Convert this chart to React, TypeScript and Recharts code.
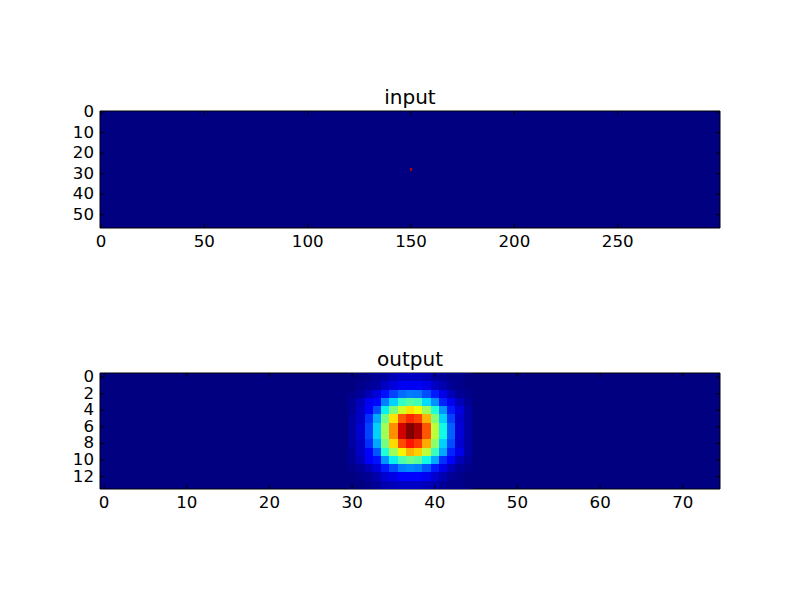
import React from "react";
import { ScatterChart, Scatter, XAxis, YAxis, ReferenceArea } from "recharts";

const inputTitle = "input";
const outputTitle = "output";
const inputXTicks = [0, 50, 100, 150, 200, 250];
const inputYTicks = [0, 10, 20, 30, 40, 50];
const outputXTicks = [0, 10, 20, 30, 40, 50, 60, 70];
const outputYTicks = [0, 2, 4, 6, 8, 10, 12];

const inputCols = [150];
const inputRows = [28];
const inputValues = [0.95];

const outputCols = [30, 31, 32, 33, 34, 35, 36, 37, 38, 39, 40, 41, 42, 43, 44];
const outputRow0 = [0, 0, 0.01, 0.02, 0.03, 0.05, 0.06, 0.06, 0.06, 0.05, 0.03, 0.02, 0.01, 0.01, 0];
const outputRow1 = [0, 0.01, 0.02, 0.03, 0.06, 0.08, 0.1, 0.1, 0.1, 0.09, 0.06, 0.04, 0.02, 0.01, 0];
const outputRow2 = [0.01, 0.02, 0.05, 0.08, 0.14, 0.19, 0.23, 0.245, 0.24, 0.2, 0.15, 0.09, 0.05, 0.02, 0.01];
const outputRow3 = [0.02, 0.05, 0.1, 0.13, 0.25, 0.33, 0.41, 0.45, 0.43, 0.34, 0.265, 0.155, 0.1, 0.05, 0.02];
const outputRow4 = [0.02, 0.06, 0.11, 0.2, 0.36, 0.5, 0.6, 0.67, 0.64, 0.545, 0.39, 0.27, 0.15, 0.08, 0.03];
const outputRow5 = [0.03, 0.06, 0.17, 0.29, 0.48, 0.67, 0.82, 0.87, 0.84, 0.72, 0.51, 0.33, 0.19, 0.07, 0.03];
const outputRow6 = [0.03, 0.07, 0.19, 0.33, 0.545, 0.76, 0.93, 1, 0.96, 0.82, 0.58, 0.37, 0.22, 0.075, 0.03];
const outputRow7 = [0.03, 0.07, 0.19, 0.33, 0.545, 0.76, 0.93, 1, 0.96, 0.82, 0.58, 0.37, 0.22, 0.075, 0.03];
const outputRow8 = [0.03, 0.06, 0.17, 0.29, 0.49, 0.68, 0.83, 0.89, 0.85, 0.73, 0.52, 0.33, 0.2, 0.07, 0.03];
const outputRow9 = [0.02, 0.06, 0.12, 0.21, 0.39, 0.54, 0.65, 0.72, 0.69, 0.58, 0.42, 0.29, 0.16, 0.09, 0.03];
const outputRow10 = [0.02, 0.05, 0.11, 0.14, 0.27, 0.36, 0.44, 0.48, 0.46, 0.37, 0.29, 0.17, 0.11, 0.05, 0.02];
const outputRow11 = [0.01, 0.02, 0.05, 0.08, 0.15, 0.2, 0.25, 0.26, 0.25, 0.21, 0.15, 0.09, 0.05, 0.02, 0.01];
const outputRow12 = [0, 0.01, 0.02, 0.04, 0.07, 0.09, 0.11, 0.11, 0.11, 0.1, 0.07, 0.04, 0.02, 0.01, 0];
const outputRow13 = [0, 0, 0.01, 0.02, 0.04, 0.05, 0.06, 0.06, 0.06, 0.05, 0.04, 0.02, 0.01, 0.01, 0];
const outputRows = [
  outputRow0, outputRow1, outputRow2, outputRow3, outputRow4, outputRow5, outputRow6,
  outputRow7, outputRow8, outputRow9, outputRow10, outputRow11, outputRow12, outputRow13,
];

const inputCells = inputCols.map((x, i) => ({ x, y: inputRows[i], v: inputValues[i] }));
const outputCells = outputRows.flatMap((row, y) => row.map((v, i) => ({ x: outputCols[i], y, v })));

const clamp = (n: number) => Math.max(0, Math.min(1, n));
const jet = (v: number) => {
  const red = v > 0.89 ? 1 - ((v - 0.89) / 0.11) * 0.5 : clamp((v - 0.35) / 0.31);
  const g = v < 0.125 ? 0 : v < 0.375 ? (v - 0.125) / 0.25 : v < 0.64 ? 1 : clamp((0.91 - v) / 0.27);
  const b = v < 0.11 ? 0.5 + (v / 0.11) * 0.5 : v < 0.34 ? 1 : clamp((0.65 - v) / 0.31);
  return `rgb(${Math.round(red * 255)},${Math.round(g * 255)},${Math.round(b * 255)})`;
};

const FONT = "DejaVu Sans";
const PLOT_WIDTH = 620;

type PanelProps = {
  title: string;
  cells: { x: number; y: number; v: number }[];
  cols: number;
  rows: number;
  xTicks: number[];
  yTicks: number[];
  top: number;
  plotTop: number;
  plotHeight: number;
  titleY: number;
};

function Panel({ title, cells, cols, rows, xTicks, yTicks, top, plotTop, plotHeight, titleY }: PanelProps) {
  const cw = PLOT_WIDTH / cols;
  const ch = plotHeight / rows;
  const height = 300;
  const xDomain: [number, number] = [-0.5, cols - 0.5];
  const yDomain: [number, number] = [-0.5, rows - 0.5];
  const xTick = (p: any) => (
    <g>
      <line x1={p.x} x2={p.x} y1={plotTop + plotHeight} y2={plotTop + plotHeight - 4} stroke="#000" />
      <line x1={p.x} x2={p.x} y1={plotTop} y2={plotTop + 4} stroke="#000" />
      <text x={p.x} y={plotTop + plotHeight + 18.5} textAnchor="middle" fontFamily={FONT} fontSize={16.67} fill="#000">
        {p.payload.value}
      </text>
    </g>
  );
  const yTick = (p: any) => (
    <g>
      <line x1={100} x2={104} y1={p.y} y2={p.y} stroke="#000" />
      <line x1={720} x2={716} y1={p.y} y2={p.y} stroke="#000" />
      <text x={94} y={p.y + 5} textAnchor="end" fontFamily={FONT} fontSize={16.67} fill="#000">
        {p.payload.value}
      </text>
    </g>
  );
  const cell = (p: any) => (
    <rect
      x={p.cx - cw / 2}
      y={p.cy - ch / 2}
      width={cw}
      height={ch}
      fill={jet(p.payload.v)}
      shapeRendering="crispEdges"
    />
  );
  return (
    <div style={{ position: "absolute", left: 0, top, width: 800, height }}>
      <ScatterChart
        width={800}
        height={height}
        margin={{ top: plotTop, right: 80, bottom: height - plotTop - plotHeight - 30, left: 40 }}
      >
        <XAxis
          type="number"
          dataKey="x"
          domain={xDomain}
          ticks={xTicks}
          height={30}
          axisLine={false}
          tickLine={false}
          tick={xTick}
          interval={0}
          allowDataOverflow
        />
        <YAxis
          type="number"
          dataKey="y"
          domain={yDomain}
          ticks={yTicks}
          width={60}
          reversed
          axisLine={false}
          tickLine={false}
          tick={yTick}
          interval={0}
          allowDataOverflow
        />
        <ReferenceArea x1={-0.5} x2={cols - 0.5} y1={-0.5} y2={rows - 0.5} fill="#000080" fillOpacity={1} stroke="none" />
        <Scatter data={cells} isAnimationActive={false} shape={cell} />
        <ReferenceArea x1={-0.5} x2={cols - 0.5} y1={-0.5} y2={rows - 0.5} fill="none" stroke="#000" strokeWidth={1} />
        <text x={410} y={titleY} textAnchor="middle" fontFamily={FONT} fontSize={20} fill="#000">
          {title}
        </text>
      </ScatterChart>
    </div>
  );
}

export default function App() {
  return (
    <div style={{ position: "absolute", left: 0, top: 0, width: 800, height: 600, background: "#fff" }}>
      <Panel title={inputTitle} cells={inputCells} cols={300} rows={57} xTicks={inputXTicks} yTicks={inputYTicks} top={0} plotTop={111} plotHeight={117} titleY={104} />
      <Panel title={outputTitle} cells={outputCells} cols={75} rows={14} xTicks={outputXTicks} yTicks={outputYTicks} top={262} plotTop={111} plotHeight={116} titleY={104} />
    </div>
  );
}
